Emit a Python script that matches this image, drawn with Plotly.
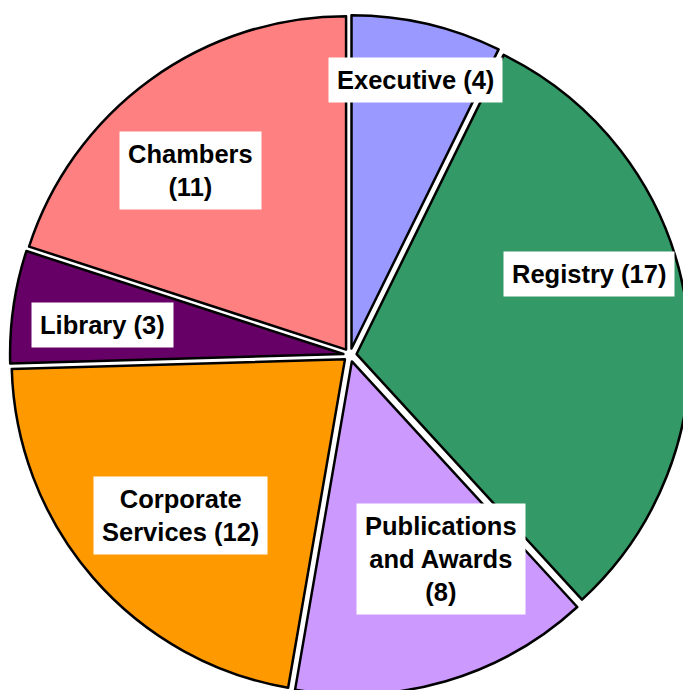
import plotly.graph_objects as go

# Data
departments = ["Executive", "Registry", "Publications and Awards",
               "Corporate Services", "Library", "Chambers"]
staff = [4, 17, 8, 12, 3, 11]
label_text = ["Executive (4)", "Registry (17)", "Publications<br>and Awards<br>(8)",
              "Corporate<br>Services (12)", "Library (3)", "Chambers<br>(11)"]

# Styles / layout
colors = ["#9999FF", "#339966", "#CC99FF", "#FF9900", "#660066", "#FF8080"]
# label box centres in page pixels (layout only)
label_px = [415, 589, 441, 180, 102, 190]
label_py = [80, 274, 559, 515, 325, 171]

L, T, SIZE = 10, 15, 680

fig = go.Figure(go.Pie(
    labels=departments,
    values=staff,
    sort=False,
    direction="clockwise",
    rotation=0,
    pull=[0.02] * len(staff),
    marker=dict(colors=colors, line=dict(color="black", width=2.5)),
    textinfo="none",
    hoverinfo="label+value",
    showlegend=False,
))

for t, px, py in zip(label_text, label_px, label_py):
    fig.add_annotation(
        x=(px - L) / SIZE, y=1 - (py - T) / SIZE, xref="paper", yref="paper",
        xanchor="center", yanchor="middle",
        text="<b>" + t + "</b>",
        showarrow=False,
        font=dict(family="Liberation Sans, Arial, sans-serif", size=25.5, color="black"),
        bgcolor="white",
        borderpad=8,
        align="center",
    )

fig.update_layout(
    width=700, height=700,
    margin=dict(l=L, r=700 - L - SIZE, t=T, b=700 - T - SIZE),
    paper_bgcolor="white",
    plot_bgcolor="white",
)

fig.write_html(
    "out.html",
    config={"displayModeBar": False},
    post_script="document.body.style.margin='0';document.body.style.overflow='hidden';"
                "document.documentElement.style.overflow='hidden';",
)
